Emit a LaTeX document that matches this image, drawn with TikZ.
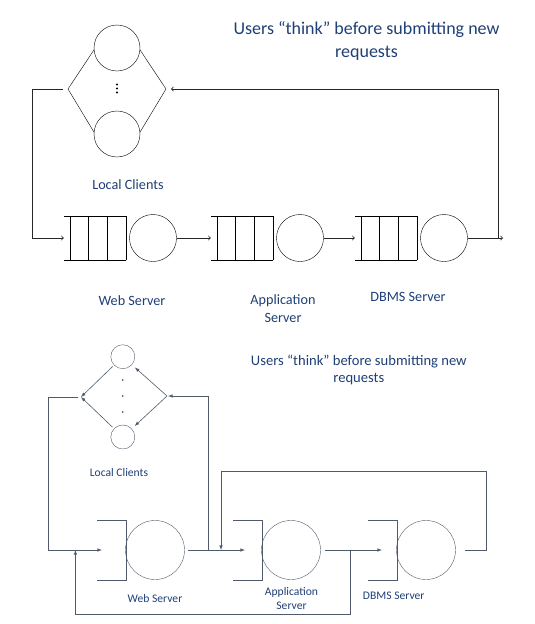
\documentclass[tikz,border=0pt]{standalone}
\usepackage{fontspec}
\setmainfont{Carlito}
\usepackage{tikz}
\usetikzlibrary{arrows}
\definecolor{labelblue}{HTML}{1F3F77}
\definecolor{linegray}{HTML}{4F5B6B}

\begin{document}
\begin{tikzpicture}[
                x=1pt, y=-1pt, % pixel grid, y runs downwards
                server/.style={circle, draw, inner sep=0pt, minimum size=47pt}, % Server of the upper network
                bserver/.style={circle, draw=linegray, inner sep=0pt, minimum size=59pt}, % Server of the lower network
                client/.style={circle, draw, inner sep=0pt, minimum size=46pt},
                bclient/.style={circle, draw=linegray, inner sep=0pt, minimum size=24pt},
                srvname/.style={text=labelblue, align=center, font=\fontsize{14.2}{17.8}\selectfont},
                bsrvname/.style={text=labelblue, align=center, font=\fontsize{11.6}{14.7}\selectfont},
                flow/.style={->, draw=black!85, line width=0.8pt},
                bflow/.style={-latex, draw=linegray, line width=0.6pt}
                ]
                \useasboundingbox (0,0) rectangle (535,624);

                % upper network
                \node[srvname, font=\fontsize{18}{22.3}\selectfont] (title1) at (366.5,41) {Users “think” before submitting new\\requests};
                \node[client] (c1) at (117,48) {};
                \node[client] (c2) at (117,134) {};
                \coordinate (lcL) at (68,89);
                \coordinate (lcR) at (166,89);
                \draw (c1.185) -- (lcL) -- (c2.175);
                \draw (c1.355) -- (lcR) -- (c2.5);
                \foreach \y in {84.5,88.5,92.5}
                    \fill (117,\y) circle (1.1pt);

                \foreach \n/\x in {web/153, app/300, dbms/444} {
                    \node[server] (\n) at (\x,238) {};
                    \node[minimum width=62pt, minimum height=44pt, inner sep=0pt] (q\n) at (\x-58,238) {};
                    \draw (q\n.north west) -- (q\n.north east) (q\n.south west) -- (q\n.south east);
                    \foreach \d in {6,24.5,43,62}
                        \draw (\x-89+\d,216) -- (\x-89+\d,260);
                }

                \coordinate (dout) at (503,238);
                \coordinate (dret) at (498,238);
                \draw[flow, shorten <=5pt] (lcL) -- (32,89) |- (qweb.west);
                \draw[flow] (web) -- (qapp.west);
                \draw[flow] (app) -- (qdbms.west);
                \draw[flow] (dbms) -- (dout);
                \draw[flow, shorten >=5pt] (dret) |- (lcR);

                \node[srvname] (lblclients) at (128,184.5) {Local Clients};
                \node[srvname] (lblweb) at (132,300.7) {Web Server};
                \node[srvname] (lblapp) at (283,308.3) {Application\\Server};
                \node[srvname] (lbldbms) at (408,296.6) {DBMS Server};

                % lower network
                \node[bsrvname, font=\fontsize{14.6}{17.8}\selectfont] (title2) at (358.8,370) {Users “think” before submitting new\\requests};
                \node[bclient] (b1) at (122.8,356.7) {};
                \node[bclient] (b2) at (122.8,437) {};
                \foreach \y in {380,396,412}
                    \fill[black!80] (122.8,\y) circle (0.9pt);
                \coordinate (bl) at (81,397);
                \coordinate (br) at (167,396);
                \draw[bflow, shorten <=2pt] (b1) -- (bl);
                \draw[bflow, shorten <=2pt] (b2) -- (bl);
                \draw[bflow, shorten >=4pt] (br) -- (b1);
                \draw[bflow, shorten >=4pt] (br) -- (b2);

                \foreach \n/\x in {web/155, app/291, dbms/426} {
                    \node[bserver] (b\n) at (\x,550) {};
                    \draw[linegray, line width=0.6pt] (\x-58,520) -| (\x-29,580) -- (\x-58,580);
                }

                \coordinate (bwebin) at (102,550);
                \coordinate (bappin) at (245,550);
                \coordinate (bdbmsin) at (382,550);
                \coordinate (j1) at (208.5,550);
                \coordinate (j2) at (350,550);
                \coordinate (j3) at (75.4,550);
                \coordinate (j4) at (221,550);
                \draw[bflow, shorten <=3pt] (bl) -- (48,397) |- (bwebin);
                \draw[bflow, shorten <=3pt] (bweb) -- (bappin);
                \draw[bflow, shorten >=1pt] (j1) |- (br);
                \draw[bflow, shorten <=4pt] (bapp) -- (bdbmsin);
                \draw[bflow] (j2) -- (350,614.6) -| (j3);
                \draw[bflow, shorten <=9pt] (bdbms) -- (486,550) |- (221,471) -- (j4);

                \node[bsrvname] (blblclients) at (119,472.3) {Local Clients};
                \node[bsrvname] (blblweb) at (155,599) {Web Server};
                \node[bsrvname] (blblapp) at (291.5,598.5) {Application\\Server};
                \node[bsrvname] (blbldbms) at (393.7,595.8) {DBMS Server};
            \end{tikzpicture}
\end{document}
